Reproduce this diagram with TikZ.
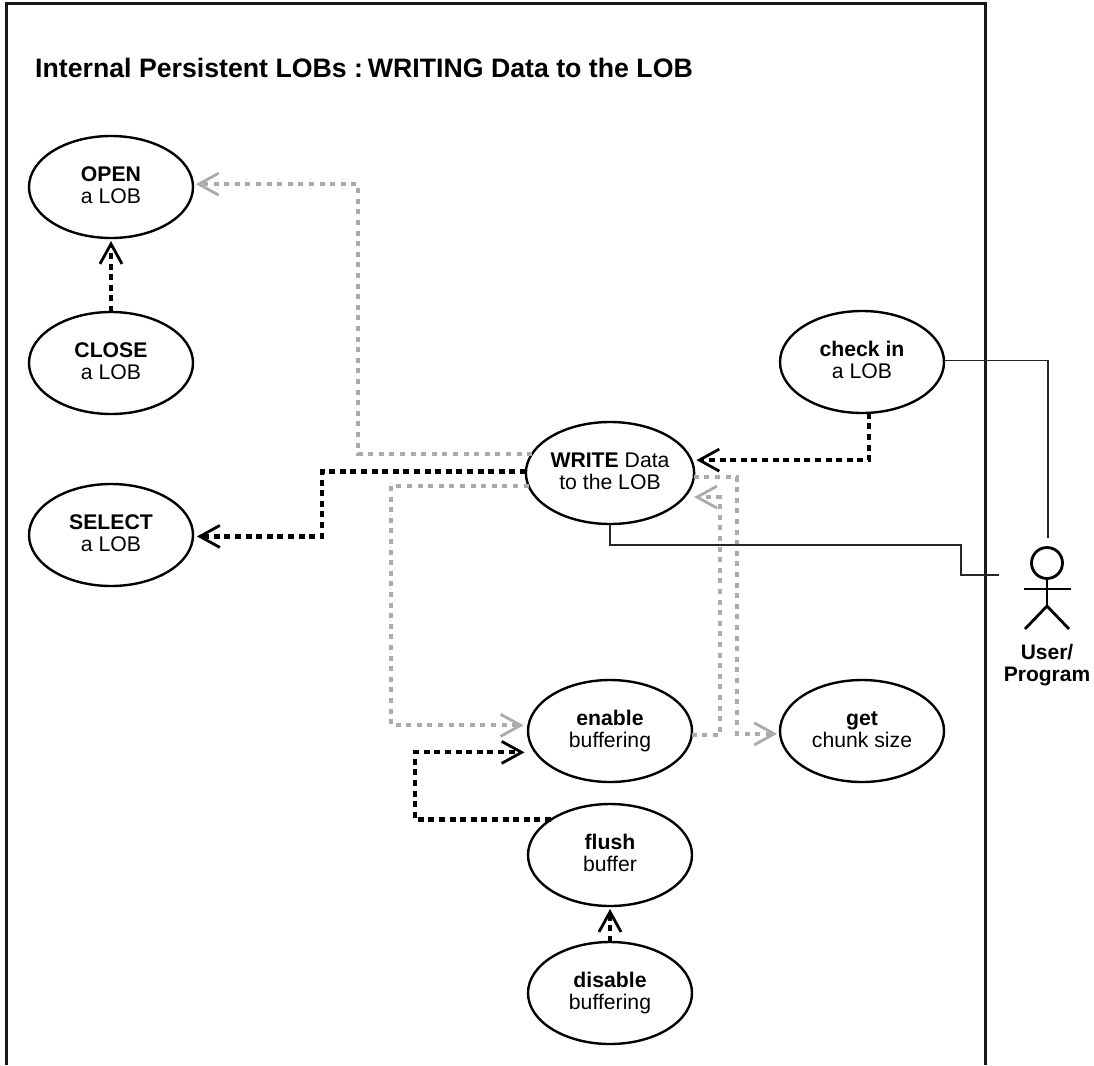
\documentclass[tikz,border=0pt]{standalone}
\usepackage{fontspec}
\setmainfont{Liberation Sans}
\usetikzlibrary{shapes.geometric,arrows.meta}
\tikzset{
  usecase/.style={ellipse,draw=black,line width=2.4pt,minimum width=164pt,minimum height=102pt,inner sep=0pt,outer sep=0pt,align=center,text height=37pt,text depth=5pt,font=\fontsize{21.2}{22}\selectfont},
  graydep/.style={draw=depgray,line width=4.2pt,dash pattern=on 5pt off 5.6pt,-{Straight Barb[length=20pt,width=22pt,line width=2.8pt]}},
  blackdep/.style={draw=black,line width=4.2pt,dash pattern=on 6pt off 4.6pt,-{Straight Barb[length=20pt,width=22pt,line width=2.8pt]}},
  assoc/.style={draw=black!85,line width=1.4pt},
  actorline/.style={draw=black,line width=2.8pt},
  frameline/.style={draw=black!90,line width=3pt},
  titletext/.style={font=\bfseries\fontsize{26.7}{32}\selectfont,anchor=base west,inner sep=0pt},
  actortext/.style={font=\bfseries\fontsize{21}{22}\selectfont,align=center,inner sep=0pt}
}
\definecolor{depgray}{HTML}{ABABAB}
\begin{document}
\begin{tikzpicture}[x=1pt,y=-1pt]
\useasboundingbox (0,0) rectangle (1094,1065);
\draw[frameline] (6,1065) -- (6,4) -- (985,4) -- (985,1065);
\node[titletext] (title) at (35,77.5) {Internal Persistent LOBs :\kern-5pt{} WRITING Data to the LOB};
\node[usecase] (open) at (111,187) {\textbf{OPEN}\\a LOB};
\node[usecase] (close) at (111,363) {\textbf{CLOSE}\\a LOB};
\node[usecase] (select) at (111,535) {\textbf{SELECT}\\a LOB};
\node[usecase] (write) at (610,473) {\textbf{WRITE} Data\\to the LOB};
\node[usecase] (check) at (862,362) {\textbf{check in}\\a LOB};
\node[usecase] (enable) at (610,731) {\textbf{enable}\\buffering};
\node[usecase] (get) at (862,731) {\textbf{get}\\chunk size};
\node[usecase] (flush) at (610,855) {\textbf{flush}\\buffer};
\node[usecase] (disable) at (610,993) {\textbf{disable}\\buffering};
% way points
\coordinate (w1) at (358,300);
\coordinate (w3) at (322,500);
\coordinate (w4) at (391,600);
\coordinate (w6) at (737,600);
\coordinate (w7) at (720,600);
\coordinate (w8) at (415,790);
\coordinate (t1) at (961,545);
\coordinate (t2) at (999,575);
\coordinate (t3) at (1048,538);
% dependencies
\draw[graydep,shorten >=3pt] (write.166) -| (w1) |- (open.2);
\draw[blackdep,shorten >=3pt] (close.north) -- (open.south);
\draw[blackdep,shorten >=4pt] (write.179) -| (w3) |- (select.-1);
\draw[graydep,shorten >=5pt] (write.189) -| (w4) |- (enable.176);
\draw[blackdep,shorten >=5pt] (check.278) |- (write.9);
\draw[graydep,shorten >=3pt] (write.-3) -| (w6) |- (get.-178.5);
\draw[graydep,shorten >=10pt] (enable.-3.5) -| (w7) |- (write.-18);
\draw[blackdep,shorten >=11pt] (flush.149.6) -| (w8) |- (enable.196);
\draw[blackdep,shorten >=3pt] (disable.north) -- (flush.south);
% actor
\node[circle,draw=black,line width=2.8pt,minimum size=31pt,inner sep=0pt,outer sep=0pt] (actor) at (1047,563) {};
\coordinate (hip) at (1047,606);
\coordinate (armL) at (1024,589);
\coordinate (armR) at (1071,589);
\coordinate (legL) at (1025,629);
\coordinate (legR) at (1069,629);
\draw[actorline] (actor.south) -- (hip);
\draw[actorline] (armL) -- (armR);
\draw[actorline] (legL) -- (hip) -- (legR);
\node[actortext] (actorname) at (1047,665) {User/\\Program};
% associations
\draw[assoc] (write.south) |- (t1) |- (t2);
\draw[assoc] (check.1) -| (t3);
\end{tikzpicture}
\end{document}
